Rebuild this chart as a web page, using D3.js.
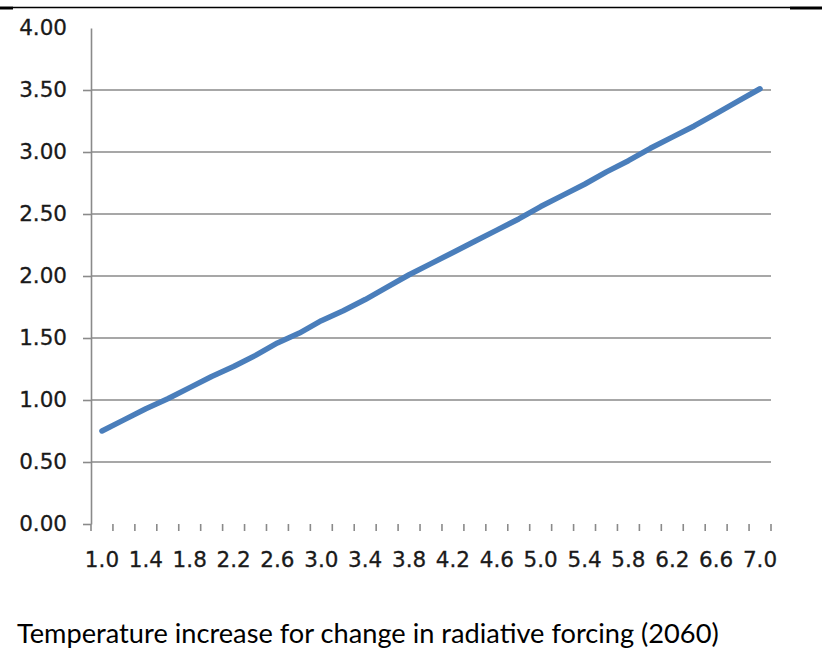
<!DOCTYPE html>
<html>
<head>
<meta charset="utf-8">
<script src="https://cdn.jsdelivr.net/npm/d3@7"></script>
<style>
  html, body { margin: 0; padding: 0; background: #fff; }
  svg { display: block; }
</style>
</head>
<body>
<svg id="chart" width="822" height="649"></svg>
<script>
const categories = ["1.0","1.2","1.4","1.6","1.8","2.0","2.2","2.4","2.6","2.8","3.0","3.2","3.4","3.6","3.8","4.0","4.2","4.4","4.6","4.8","5.0","5.2","5.4","5.6","5.8","6.0","6.2","6.4","6.6","6.8","7.0"];
const temperature = [0.75,0.84,0.93,1.01,1.10,1.19,1.27,1.36,1.46,1.54,1.64,1.72,1.81,1.91,2.01,2.10,2.19,2.28,2.37,2.46,2.56,2.65,2.74,2.84,2.93,3.03,3.12,3.21,3.31,3.41,3.51];
const yTicks = [0,0.5,1,1.5,2,2.5,3,3.5,4];
const gridValues = [0.5,1,1.5,2,2.5,3,3.5];
const title = "Temperature increase for change in radiative forcing (2060)";

(function () {
const svg = d3.select("#chart");
const pLeft = 91, pRight = 771, pTop = 28, pBottom = 524;
const axisColor = "#8a8a8a";
const lineColor = "#4a7ebb";
const font = "'DejaVu Sans', Verdana, sans-serif";
const labelSize = 21.5;

const x = d3.scaleBand().domain(categories).range([pLeft, pRight]).padding(0);
const y = d3.scaleLinear().domain([0, 4]).range([pBottom, pTop]);

// top rule
svg.append("line").attr("x1", 13).attr("x2", 790).attr("y1", 7.5).attr("y2", 7.5)
  .attr("stroke", "#000").attr("stroke-width", 1.5);
svg.append("line").attr("x1", 0).attr("x2", 13).attr("y1", 8).attr("y2", 8)
  .attr("stroke", "#000").attr("stroke-width", 3);
svg.append("line").attr("x1", 790).attr("x2", 822).attr("y1", 8).attr("y2", 8)
  .attr("stroke", "#000").attr("stroke-width", 3);

// gridlines
svg.append("g").selectAll("line").data(gridValues).join("line")
  .attr("x1", pLeft).attr("x2", pRight)
  .attr("y1", d => y(d)).attr("y2", d => y(d))
  .attr("stroke", axisColor).attr("stroke-width", 1.6);

// y axis
const yAxis = svg.append("g").attr("transform", `translate(${pLeft},0)`)
  .call(d3.axisLeft(y).tickValues(yTicks).tickFormat(d3.format(".2f"))
    .tickSizeInner(8).tickSizeOuter(0).tickPadding(16));
yAxis.select(".domain").attr("stroke", axisColor).attr("stroke-width", 1.6);
yAxis.selectAll(".tick line").attr("stroke", axisColor).attr("stroke-width", 1.6)
  .filter(d => d === 4).remove();
yAxis.selectAll(".tick text").attr("font-family", font).attr("font-size", labelSize)
  .attr("fill", "#1a1a1a").attr("stroke", "#1a1a1a").attr("stroke-width", 0.3);

// x axis ticks at category boundaries
const bounds = categories.map(c => x(c)).concat([x(categories[categories.length - 1]) + x.bandwidth()]);
svg.append("g").selectAll("line").data(bounds).join("line")
  .attr("x1", d => d).attr("x2", d => d)
  .attr("y1", pBottom).attr("y2", pBottom + 7)
  .attr("stroke", axisColor).attr("stroke-width", 1.6);

// x axis labels
const xAxis = svg.append("g").attr("transform", `translate(0,${pBottom})`)
  .call(d3.axisBottom(x).tickSize(0).tickPadding(0)
    .tickFormat((d, i) => i % 2 === 0 ? d : ""));
xAxis.select(".domain").remove();
xAxis.selectAll(".tick text").attr("font-family", font).attr("font-size", labelSize)
  .attr("fill", "#1a1a1a").attr("stroke", "#1a1a1a").attr("stroke-width", 0.3)
  .attr("y", 43).attr("dy", 0);

// series line
const line = d3.line()
  .x((d, i) => x(categories[i]) + x.bandwidth() / 2)
  .y(d => y(d));
svg.append("path").datum(temperature)
  .attr("d", line)
  .attr("fill", "none").attr("stroke", lineColor).attr("stroke-width", 5.5)
  .attr("stroke-linecap", "round").attr("stroke-linejoin", "round");

// caption
const cap = svg.append("text").attr("x", 17).attr("y", 643)
  .attr("font-family", "Lato, 'Open Sans', sans-serif").attr("font-size", 26)
  .attr("fill", "#000").text(title);
const w = cap.node().getComputedTextLength();
cap.attr("font-size", 26 * 702 / w);
})();
</script>
</body>
</html>
